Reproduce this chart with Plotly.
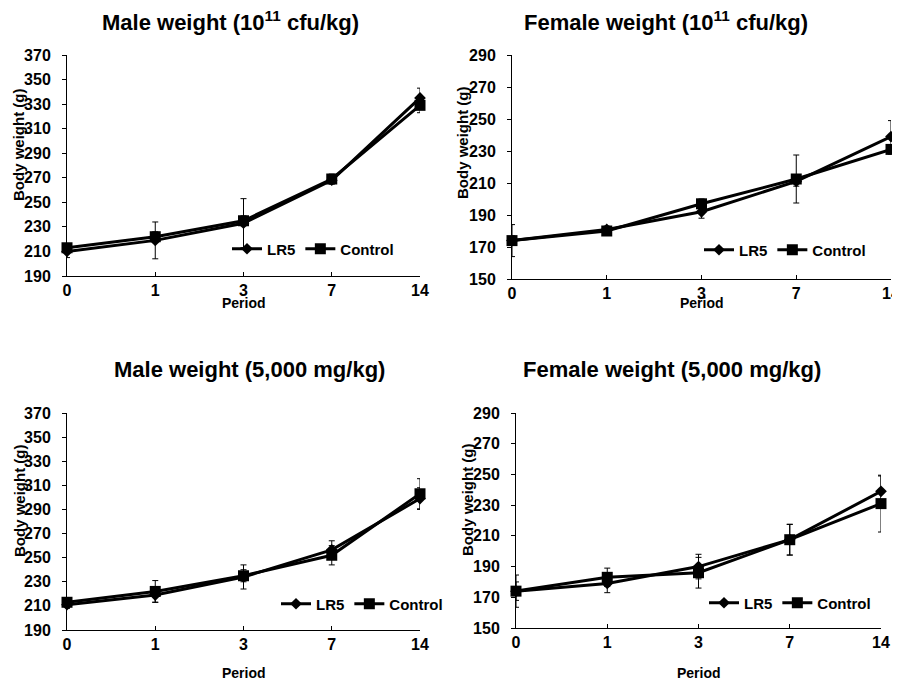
import plotly.graph_objects as go

periods = ["0", "1", "3", "7", "14"]

titles = [
    "Male weight (10<sup>11</sup> cfu/kg)",
    "Female weight (10<sup>11</sup> cfu/kg)",
    "Male weight (5,000 mg/kg)",
    "Female weight (5,000 mg/kg)",
]

# Panel 1: Male 10^11 cfu/kg
m1_lr5 = [210, 219, 233, 268, 335]
m1_lr5_err = [5, 15, 20, 3, 8]
m1_ctl = [213, 222, 235, 269, 329]
m1_ctl_err = [3, 4, 4, 4, 6]

# Panel 2: Female 10^11 cfu/kg
f1_lr5 = [174, 181, 192, 211, 239]
f1_lr5_err = [3, 2, 4, 3, 10]
f1_ctl = [174, 180, 197, 212.5, 231]
f1_ctl_err = [10, 2, 3, 15, 3]

# Panel 3: Male 5,000 mg/kg
m2_lr5 = [211, 219, 234, 256.5, 299]
m2_lr5_err = [3, 6, 10, 7.5, 9]
m2_ctl = [213, 222, 235, 252, 303]
m2_ctl_err = [3, 9, 5, 8, 12.5]

# Panel 4: Female 5,000 mg/kg
f2_lr5 = [174, 179, 190, 207.5, 239]
f2_lr5_err = [6, 6, 8, 10, 10]
f2_ctl = [174, 183, 186, 207.5, 231]
f2_ctl_err = [10.5, 6, 10, 10, 18.5]

male_ticks = [190, 210, 230, 250, 270, 290, 310, 330, 350, 370]
female_ticks = [150, 170, 190, 210, 230, 250, 270, 290]

# page body has an 8px margin; figure sized to fit the 900x679 window
OFF = 8
W, H = 900 - OFF, 679 - OFF

def px_x(p):
    return (p - OFF) / W

def px_y(p):
    return 1 - (p - OFF) / H

panels = [
    dict(lr5=m1_lr5, lr5e=m1_lr5_err, ctl=m1_ctl, ctle=m1_ctl_err, ticks=male_ticks,
         xd=(67, 420), yd=(55, 276), title_xy=(230, 21), leg=(227, 249), ytitle=(19, 145), period_y=303),
    dict(lr5=f1_lr5, lr5e=f1_lr5_err, ctl=f1_ctl, ctle=f1_ctl_err, ticks=female_ticks,
         xd=(512, 891), yd=(55, 279), title_xy=(666, 21), leg=(699, 250), ytitle=(462, 143), period_y=303),
    dict(lr5=m2_lr5, lr5e=m2_lr5_err, ctl=m2_ctl, ctle=m2_ctl_err, ticks=male_ticks,
         xd=(67, 420), yd=(413, 630), title_xy=(249, 369), leg=(276, 604), ytitle=(19, 501), period_y=673),
    dict(lr5=f2_lr5, lr5e=f2_lr5_err, ctl=f2_ctl, ctle=f2_ctl_err, ticks=female_ticks,
         xd=(516, 881), yd=(413, 628), title_xy=(672, 369), leg=(704, 603), ytitle=(467, 500), period_y=673),
]

fig = go.Figure()
FONT = "Liberation Sans, Arial, sans-serif"
annotations = []
layout_axes = {}

for i, p in enumerate(panels):
    n = i + 1
    xa = "x" if n == 1 else f"x{n}"
    ya = "y" if n == 1 else f"y{n}"
    leg = "legend" if n == 1 else f"legend{n}"
    for name, vals, errs, sym, size in [
        ("LR5", p["lr5"], p["lr5e"], "diamond", 9),
        ("Control", p["ctl"], p["ctle"], "square", 11),
    ]:
        fig.add_trace(go.Scatter(
            x=periods, y=vals, name=f"<b>{name}</b>", mode="lines+markers",
            line=dict(color="black", width=3),
            marker=dict(symbol=sym, size=size, color="black"),
            error_y=dict(type="data", array=errs, visible=True, color="black", thickness=1, width=3),
            xaxis=xa, yaxis=ya, legend=leg, cliponaxis=False,
        ))
    xkey = "xaxis" if n == 1 else f"xaxis{n}"
    ykey = "yaxis" if n == 1 else f"yaxis{n}"
    layout_axes[xkey] = dict(
        domain=[px_x(p["xd"][0]), px_x(p["xd"][1])],
        anchor=ya, type="category", categoryorder="array", categoryarray=periods,
        tickvals=periods, ticktext=[f"<b>{c}</b>" for c in periods],
        range=[0, 4], showline=True, linecolor="black", linewidth=1,
        ticks="inside", ticklen=4, tickcolor="black", ticklabelstandoff=0,
        showgrid=False, zeroline=False, automargin=False,
        tickfont=dict(family=FONT, size=16, color="black"),
    )
    t = p["ticks"]
    layout_axes[ykey] = dict(
        domain=[px_y(p["yd"][1]), px_y(p["yd"][0])],
        anchor=xa, range=[t[0], t[-1]], tickvals=t, ticktext=[f"<b>{v}</b>" for v in t],
        showline=True, linecolor="black", linewidth=1,
        ticks="outside", ticklen=4, tickcolor="black", ticklabelstandoff=8,
        showgrid=False, zeroline=False, automargin=False,
        tickfont=dict(family=FONT, size=16, color="black"),
    )
    layout_axes[leg] = dict(
        x=px_x(p["leg"][0]), y=px_y(p["leg"][1]), xanchor="left", yanchor="middle",
        orientation="h", bgcolor="rgba(0,0,0,0)",
        font=dict(family=FONT, size=15, color="black"),
        itemwidth=30, tracegroupgap=0,
    )
    annotations.append(dict(
        text=f"<b>{titles[i]}</b>", x=px_x(p["title_xy"][0]), y=px_y(p["title_xy"][1]),
        xref="paper", yref="paper", showarrow=False, xanchor="center", yanchor="middle",
        font=dict(family=FONT, size=22, color="black"),
    ))
    annotations.append(dict(
        text="<b>Body weight (g)</b>", x=px_x(p["ytitle"][0]), y=px_y(p["ytitle"][1]),
        xref="paper", yref="paper", showarrow=False, textangle=-90,
        xanchor="center", yanchor="middle",
        font=dict(family=FONT, size=15, color="black"),
    ))
    annotations.append(dict(
        text="<b>Period</b>", x=px_x((p["xd"][0] + p["xd"][1]) / 2), y=px_y(p["period_y"]),
        xref="paper", yref="paper", showarrow=False, xanchor="center", yanchor="middle",
        font=dict(family=FONT, size=14, color="black"),
    ))

fig.update_layout(
    template="none",
    width=W, height=H, margin=dict(l=0, r=0, t=0, b=0, autoexpand=False),
    paper_bgcolor="white", plot_bgcolor="white",
    annotations=annotations, showlegend=True,
    **layout_axes,
)

fig.write_html("out.html")
